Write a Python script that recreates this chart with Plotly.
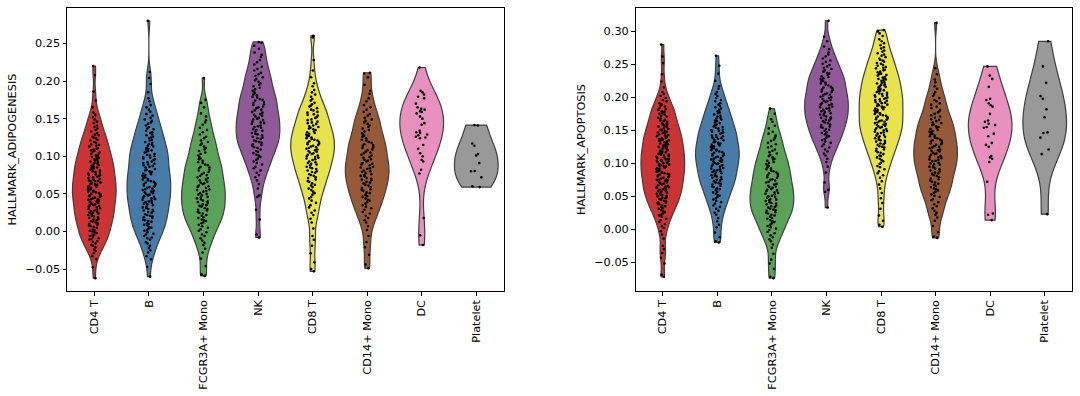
import plotly.graph_objects as go

categories = ["CD4 T", "B", "FCGR3A+ Mono", "NK", "CD8 T", "CD14+ Mono", "DC", "Platelet"]
colors = ["#cb3335", "#477ca8", "#59a257", "#905998", "#e6e34d", "#965a38", "#e890be", "#999999"]

# ---------------- HALLMARK_ADIPOGENESIS ----------------
adipo_cd4t = [-0.062, -0.048, -0.037, -0.033, -0.029, -0.026, -0.024, -0.021,
              -0.019, -0.018, -0.016, -0.014, -0.013, -0.011,
              -0.010, -0.009, -0.007, -0.006, -0.005, -0.004, -0.002, -0.001,
              0.000, 0.001, 0.002, 0.003, 0.005, 0.006, 0.007, 0.008, 0.009,
              0.010, 0.011, 0.012, 0.013, 0.014, 0.015, 0.016, 0.017, 0.018, 0.019,
              0.020, 0.021, 0.022, 0.023, 0.024, 0.025, 0.025, 0.026, 0.027, 0.028, 0.029,
              0.030, 0.031, 0.032, 0.033, 0.034, 0.035, 0.035, 0.036, 0.037, 0.038, 0.039,
              0.040, 0.041, 0.042, 0.043, 0.043, 0.044, 0.045, 0.046, 0.047, 0.047, 0.048, 0.049,
              0.050, 0.051, 0.052, 0.053, 0.053, 0.054, 0.055, 0.056, 0.057, 0.057, 0.058, 0.059,
              0.060, 0.061, 0.062, 0.063, 0.063, 0.064, 0.065, 0.066, 0.067, 0.067, 0.068, 0.069,
              0.070, 0.071, 0.072, 0.073, 0.074, 0.075, 0.075, 0.076, 0.077, 0.078, 0.079,
              0.080, 0.081, 0.082, 0.083, 0.084, 0.085, 0.085, 0.086, 0.087, 0.088, 0.089,
              0.090, 0.091, 0.092, 0.093, 0.094, 0.095, 0.096, 0.097, 0.098, 0.099,
              0.100, 0.101, 0.102, 0.103, 0.105, 0.106, 0.107, 0.108, 0.109,
              0.110, 0.111, 0.113, 0.114, 0.115, 0.116, 0.118, 0.119,
              0.121, 0.122, 0.124, 0.125, 0.126, 0.128, 0.129,
              0.131, 0.133, 0.135, 0.137, 0.139,
              0.141, 0.144, 0.146, 0.149,
              0.152, 0.155, 0.158,
              0.165, 0.174, 0.186, 0.208, 0.220]
adipo_b = [-0.060, -0.047, -0.037, -0.033, -0.028, -0.025, -0.022,
           -0.019, -0.016, -0.014, -0.011,
           -0.009, -0.008, -0.006, -0.004, -0.003, -0.001,
           0.001, 0.002, 0.004, 0.005, 0.006, 0.008, 0.009,
           0.010, 0.011, 0.013, 0.014, 0.015, 0.016, 0.018, 0.019,
           0.020, 0.021, 0.022, 0.023, 0.025, 0.026, 0.027, 0.028, 0.029,
           0.030, 0.031, 0.032, 0.033, 0.035, 0.036, 0.037, 0.038, 0.039,
           0.040, 0.041, 0.042, 0.043, 0.044, 0.045, 0.046, 0.047, 0.048, 0.049,
           0.050, 0.051, 0.052, 0.053, 0.054, 0.055, 0.056, 0.057, 0.058, 0.059,
           0.060, 0.061, 0.062, 0.063, 0.064, 0.065, 0.066, 0.067, 0.068, 0.069,
           0.070, 0.071, 0.072, 0.073, 0.074, 0.075, 0.076, 0.077, 0.078, 0.079,
           0.080, 0.081, 0.082, 0.083, 0.085, 0.086, 0.087, 0.088, 0.089,
           0.090, 0.091, 0.092, 0.093, 0.095, 0.096, 0.097, 0.098, 0.099,
           0.100, 0.101, 0.102, 0.103, 0.105, 0.106, 0.107, 0.108, 0.109,
           0.110, 0.111, 0.113, 0.114, 0.115, 0.116, 0.118, 0.119,
           0.121, 0.122, 0.124, 0.125, 0.126, 0.128, 0.129,
           0.131, 0.132, 0.134, 0.136, 0.137, 0.139,
           0.141, 0.143, 0.145, 0.147, 0.149,
           0.151, 0.154, 0.156, 0.159,
           0.162, 0.165, 0.168,
           0.173, 0.177,
           0.185, 0.196, 0.204, 0.212, 0.280]
adipo_fcgr = [-0.059, -0.057, -0.046, -0.036, -0.028, -0.023,
              -0.018, -0.015, -0.012,
              -0.009, -0.006, -0.004, -0.001,
              0.001, 0.003, 0.005, 0.007, 0.009,
              0.011, 0.012, 0.014, 0.015, 0.016, 0.018, 0.019,
              0.021, 0.022, 0.024, 0.025, 0.026, 0.028, 0.029,
              0.030, 0.031, 0.033, 0.034, 0.035, 0.036, 0.038, 0.039,
              0.040, 0.041, 0.043, 0.044, 0.045, 0.046, 0.048, 0.049,
              0.050, 0.051, 0.053, 0.054, 0.055, 0.056, 0.058, 0.059,
              0.060, 0.061, 0.063, 0.064, 0.065, 0.066, 0.068, 0.069,
              0.071, 0.072, 0.074, 0.075, 0.076, 0.078, 0.079,
              0.081, 0.082, 0.084, 0.085, 0.086, 0.088, 0.089,
              0.091, 0.092, 0.094, 0.096, 0.097, 0.099,
              0.101, 0.103, 0.105, 0.107, 0.109,
              0.111, 0.113, 0.115, 0.117, 0.119,
              0.121, 0.124, 0.126, 0.129,
              0.132, 0.135, 0.138,
              0.142, 0.145, 0.148,
              0.153, 0.157,
              0.165, 0.171, 0.175, 0.204]
adipo_nk = [-0.008, -0.004, 0.016, 0.029, 0.046, 0.048,
            0.057, 0.063, 0.068, 0.072, 0.075, 0.078,
            0.081, 0.084, 0.086, 0.089,
            0.091, 0.093, 0.095, 0.097, 0.099,
            0.101, 0.102, 0.104, 0.106, 0.107, 0.109,
            0.111, 0.112, 0.114, 0.115, 0.116, 0.118, 0.119,
            0.120, 0.121, 0.123, 0.124, 0.125, 0.126, 0.128, 0.129,
            0.130, 0.131, 0.133, 0.134, 0.135, 0.136, 0.138, 0.139,
            0.140, 0.141, 0.143, 0.144, 0.145, 0.146, 0.148, 0.149,
            0.150, 0.151, 0.153, 0.154, 0.155, 0.156, 0.158, 0.159,
            0.161, 0.162, 0.164, 0.165, 0.166, 0.168, 0.169,
            0.171, 0.172, 0.174, 0.175, 0.176, 0.178, 0.179,
            0.181, 0.182, 0.184, 0.186, 0.187, 0.189,
            0.191, 0.193, 0.195, 0.197, 0.199,
            0.201, 0.203, 0.205, 0.207, 0.209,
            0.211, 0.214, 0.216, 0.219,
            0.222, 0.225, 0.228,
            0.232, 0.235, 0.238,
            0.243, 0.247,
            0.251, 0.252]
adipo_cd8t = [-0.053, -0.050, -0.041, -0.029, -0.019, -0.011, -0.006,
              0.004, 0.012, 0.017,
              0.022, 0.025, 0.028,
              0.032, 0.035, 0.038,
              0.041, 0.044, 0.046, 0.049,
              0.051, 0.053, 0.055, 0.057, 0.059,
              0.061, 0.062, 0.064, 0.066, 0.067, 0.069,
              0.071, 0.072, 0.074, 0.075, 0.076, 0.078, 0.079,
              0.080, 0.081, 0.083, 0.084, 0.085, 0.086, 0.088, 0.089,
              0.090, 0.091, 0.092, 0.093, 0.095, 0.096, 0.097, 0.098, 0.099,
              0.100, 0.101, 0.102, 0.103, 0.104, 0.105, 0.106, 0.107, 0.108, 0.109,
              0.110, 0.111, 0.112, 0.113, 0.114, 0.115, 0.116, 0.117, 0.118, 0.119,
              0.120, 0.121, 0.122, 0.123, 0.124, 0.125, 0.126, 0.127, 0.128, 0.129,
              0.130, 0.131, 0.132, 0.133, 0.135, 0.136, 0.137, 0.138, 0.139,
              0.140, 0.141, 0.143, 0.144, 0.145, 0.146, 0.148, 0.149,
              0.151, 0.152, 0.154, 0.155, 0.156, 0.158, 0.159,
              0.161, 0.162, 0.164, 0.166, 0.167, 0.169,
              0.171, 0.174, 0.176, 0.179,
              0.182, 0.185, 0.188,
              0.193, 0.197,
              0.205, 0.214, 0.228, 0.258, 0.260]
adipo_cd14 = [-0.049, -0.044, -0.031, -0.021, -0.014, -0.006, 0.002, 0.007,
              0.012, 0.015, 0.018,
              0.021, 0.024, 0.026, 0.029,
              0.031, 0.033, 0.035, 0.037, 0.039,
              0.041, 0.042, 0.044, 0.046, 0.047, 0.049,
              0.051, 0.052, 0.054, 0.055, 0.056, 0.058, 0.059,
              0.061, 0.062, 0.064, 0.065, 0.066, 0.068, 0.069,
              0.070, 0.071, 0.073, 0.074, 0.075, 0.076, 0.078, 0.079,
              0.080, 0.081, 0.083, 0.084, 0.085, 0.086, 0.088, 0.089,
              0.090, 0.091, 0.093, 0.094, 0.095, 0.096, 0.098, 0.099,
              0.101, 0.102, 0.104, 0.105, 0.106, 0.108, 0.109,
              0.111, 0.112, 0.114, 0.115, 0.116, 0.118, 0.119,
              0.121, 0.122, 0.124, 0.126, 0.127, 0.129,
              0.131, 0.133, 0.135, 0.137, 0.139,
              0.141, 0.143, 0.145, 0.147, 0.149,
              0.151, 0.154, 0.156, 0.159,
              0.162, 0.165, 0.168,
              0.173, 0.177,
              0.183, 0.187,
              0.195, 0.205, 0.210, 0.211]
adipo_dc = [0.218, 0.187, 0.185, 0.182, 0.179, 0.177, 0.170, 0.165, 0.163, 0.162, 0.160, 0.159, 0.157,
            0.153, 0.150, 0.144, 0.142, 0.134, 0.132, 0.131, 0.129, 0.128, 0.126, 0.125, 0.124, 0.115,
            0.110, 0.104, 0.100, 0.095, 0.093, 0.082, 0.077, 0.018, -0.005, -0.018]
adipo_platelet = [0.1415, 0.141, 0.117, 0.114, 0.103, 0.101, 0.091, 0.0805, 0.080, 0.072, 0.060, 0.059]

# ---------------- HALLMARK_APOPTOSIS ----------------
apop_cd4t = [-0.072, -0.069, -0.052, -0.043, -0.036, -0.030, -0.025, -0.014, -0.008, -0.003,
             0.002, 0.005, 0.008,
             0.011, 0.014, 0.016, 0.019,
             0.021, 0.022, 0.024, 0.026, 0.027, 0.029,
             0.031, 0.032, 0.034, 0.035, 0.036, 0.038, 0.039,
             0.040, 0.041, 0.042, 0.043, 0.045, 0.046, 0.047, 0.048, 0.049,
             0.050, 0.051, 0.052, 0.053, 0.054, 0.055, 0.056, 0.057, 0.058, 0.059,
             0.060, 0.061, 0.062, 0.063, 0.064, 0.065, 0.065, 0.066, 0.067, 0.068, 0.069,
             0.070, 0.071, 0.072, 0.073, 0.074, 0.075, 0.075, 0.076, 0.077, 0.078, 0.079,
             0.080, 0.081, 0.082, 0.083, 0.083, 0.084, 0.085, 0.086, 0.087, 0.087, 0.088, 0.089,
             0.090, 0.091, 0.092, 0.093, 0.093, 0.094, 0.095, 0.096, 0.097, 0.097, 0.098, 0.099,
             0.100, 0.101, 0.102, 0.103, 0.103, 0.104, 0.105, 0.106, 0.107, 0.107, 0.108, 0.109,
             0.110, 0.111, 0.112, 0.113, 0.113, 0.114, 0.115, 0.116, 0.117, 0.117, 0.118, 0.119,
             0.120, 0.121, 0.122, 0.123, 0.124, 0.125, 0.125, 0.126, 0.127, 0.128, 0.129,
             0.130, 0.131, 0.132, 0.133, 0.134, 0.135, 0.135, 0.136, 0.137, 0.138, 0.139,
             0.140, 0.141, 0.142, 0.143, 0.144, 0.145, 0.146, 0.147, 0.148, 0.149,
             0.150, 0.151, 0.152, 0.153, 0.155, 0.156, 0.157, 0.158, 0.159,
             0.160, 0.161, 0.163, 0.164, 0.165, 0.166, 0.168, 0.169,
             0.171, 0.172, 0.174, 0.175, 0.176, 0.178, 0.179,
             0.181, 0.182, 0.184, 0.186, 0.187, 0.189,
             0.191, 0.194, 0.196, 0.199,
             0.202, 0.205, 0.208,
             0.215, 0.224, 0.235, 0.252, 0.262, 0.280]
apop_b = [-0.020, -0.018, -0.012, -0.005, 0.003, 0.007, 0.012, 0.017,
          0.022, 0.025, 0.028,
          0.031, 0.034, 0.036, 0.039,
          0.041, 0.043, 0.045, 0.047, 0.049,
          0.051, 0.052, 0.054, 0.056, 0.057, 0.059,
          0.061, 0.062, 0.064, 0.065, 0.066, 0.068, 0.069,
          0.070, 0.071, 0.073, 0.074, 0.075, 0.076, 0.078, 0.079,
          0.080, 0.081, 0.082, 0.083, 0.085, 0.086, 0.087, 0.088, 0.089,
          0.090, 0.091, 0.092, 0.093, 0.095, 0.096, 0.097, 0.098, 0.099,
          0.100, 0.101, 0.102, 0.103, 0.104, 0.105, 0.106, 0.107, 0.108, 0.109,
          0.110, 0.111, 0.112, 0.113, 0.114, 0.115, 0.116, 0.117, 0.118, 0.119,
          0.120, 0.121, 0.122, 0.123, 0.124, 0.125, 0.126, 0.127, 0.128, 0.129,
          0.130, 0.131, 0.132, 0.133, 0.135, 0.136, 0.137, 0.138, 0.139,
          0.140, 0.141, 0.142, 0.143, 0.145, 0.146, 0.147, 0.148, 0.149,
          0.150, 0.151, 0.153, 0.154, 0.155, 0.156, 0.158, 0.159,
          0.161, 0.162, 0.164, 0.165, 0.166, 0.168, 0.169,
          0.171, 0.172, 0.174, 0.176, 0.177, 0.179,
          0.181, 0.183, 0.185, 0.187, 0.189,
          0.191, 0.194, 0.196, 0.199,
          0.202, 0.205, 0.208,
          0.213, 0.217,
          0.225, 0.236, 0.248, 0.263]
apop_fcgr = [-0.074, -0.072, -0.060, -0.052, -0.046, -0.037, -0.028, -0.023,
             -0.018, -0.015, -0.012,
             -0.009, -0.006, -0.004, -0.001,
             0.001, 0.003, 0.005, 0.007, 0.009,
             0.011, 0.012, 0.014, 0.016, 0.017, 0.019,
             0.021, 0.022, 0.024, 0.025, 0.026, 0.028, 0.029,
             0.030, 0.031, 0.033, 0.034, 0.035, 0.036, 0.038, 0.039,
             0.040, 0.041, 0.043, 0.044, 0.045, 0.046, 0.048, 0.049,
             0.050, 0.051, 0.053, 0.054, 0.055, 0.056, 0.058, 0.059,
             0.060, 0.061, 0.063, 0.064, 0.065, 0.066, 0.068, 0.069,
             0.071, 0.072, 0.074, 0.075, 0.076, 0.078, 0.079,
             0.081, 0.082, 0.084, 0.085, 0.086, 0.088, 0.089,
             0.091, 0.092, 0.094, 0.096, 0.097, 0.099,
             0.101, 0.102, 0.104, 0.106, 0.107, 0.109,
             0.111, 0.113, 0.115, 0.117, 0.119,
             0.121, 0.124, 0.126, 0.129,
             0.131, 0.134, 0.136, 0.139,
             0.142, 0.145, 0.148,
             0.153, 0.157,
             0.163, 0.167,
             0.175, 0.183]
apop_nk = [0.033, 0.057, 0.060, 0.071, 0.086, 0.095, 0.102, 0.107,
           0.112, 0.115, 0.118,
           0.121, 0.124, 0.126, 0.129,
           0.131, 0.133, 0.135, 0.137, 0.139,
           0.141, 0.142, 0.144, 0.146, 0.147, 0.149,
           0.151, 0.152, 0.154, 0.155, 0.156, 0.158, 0.159,
           0.161, 0.162, 0.164, 0.165, 0.166, 0.168, 0.169,
           0.170, 0.171, 0.173, 0.174, 0.175, 0.176, 0.178, 0.179,
           0.180, 0.181, 0.183, 0.184, 0.185, 0.186, 0.188, 0.189,
           0.190, 0.191, 0.193, 0.194, 0.195, 0.196, 0.198, 0.199,
           0.200, 0.201, 0.203, 0.204, 0.205, 0.206, 0.208, 0.209,
           0.211, 0.212, 0.214, 0.215, 0.216, 0.218, 0.219,
           0.221, 0.222, 0.224, 0.225, 0.226, 0.228, 0.229,
           0.231, 0.232, 0.234, 0.236, 0.237, 0.239,
           0.241, 0.243, 0.245, 0.247, 0.249,
           0.251, 0.254, 0.256, 0.259,
           0.262, 0.265, 0.268,
           0.273, 0.277,
           0.285, 0.292, 0.316]
apop_cd8t = [0.004, 0.007, 0.013, 0.021, 0.031, 0.040, 0.047, 0.055, 0.062, 0.068, 0.073, 0.078,
             0.082, 0.085, 0.088,
             0.091, 0.094, 0.096, 0.099,
             0.101, 0.103, 0.105, 0.107, 0.109,
             0.111, 0.112, 0.114, 0.116, 0.117, 0.119,
             0.121, 0.122, 0.124, 0.125, 0.126, 0.128, 0.129,
             0.130, 0.131, 0.133, 0.134, 0.135, 0.136, 0.138, 0.139,
             0.140, 0.141, 0.142, 0.143, 0.145, 0.146, 0.147, 0.148, 0.149,
             0.150, 0.151, 0.152, 0.153, 0.154, 0.155, 0.156, 0.157, 0.158, 0.159,
             0.160, 0.161, 0.162, 0.163, 0.164, 0.165, 0.166, 0.167, 0.168, 0.169,
             0.170, 0.171, 0.172, 0.173, 0.174, 0.175, 0.176, 0.177, 0.178, 0.179,
             0.180, 0.181, 0.182, 0.183, 0.184, 0.185, 0.186, 0.187, 0.188, 0.189,
             0.190, 0.191, 0.192, 0.193, 0.194, 0.195, 0.196, 0.197, 0.198, 0.199,
             0.200, 0.201, 0.202, 0.203, 0.204, 0.205, 0.206, 0.207, 0.208, 0.209,
             0.210, 0.211, 0.212, 0.213, 0.215, 0.216, 0.217, 0.218, 0.219,
             0.220, 0.221, 0.222, 0.223, 0.225, 0.226, 0.227, 0.228, 0.229,
             0.230, 0.231, 0.233, 0.234, 0.235, 0.236, 0.238, 0.239,
             0.241, 0.242, 0.244, 0.245, 0.246, 0.248, 0.249,
             0.251, 0.252, 0.254, 0.256, 0.257, 0.259,
             0.261, 0.263, 0.265, 0.267, 0.269,
             0.271, 0.274, 0.276, 0.279,
             0.282, 0.285, 0.288,
             0.293, 0.297,
             0.300, 0.302]
apop_cd14 = [-0.013, -0.011, -0.004, 0.005, 0.013, 0.018,
             0.022, 0.025, 0.028,
             0.032, 0.035, 0.038,
             0.041, 0.044, 0.046, 0.049,
             0.051, 0.053, 0.055, 0.057, 0.059,
             0.061, 0.062, 0.064, 0.066, 0.067, 0.069,
             0.071, 0.072, 0.074, 0.076, 0.077, 0.079,
             0.081, 0.082, 0.084, 0.085, 0.086, 0.088, 0.089,
             0.091, 0.092, 0.094, 0.095, 0.096, 0.098, 0.099,
             0.100, 0.101, 0.103, 0.104, 0.105, 0.106, 0.108, 0.109,
             0.110, 0.111, 0.113, 0.114, 0.115, 0.116, 0.118, 0.119,
             0.120, 0.121, 0.123, 0.124, 0.125, 0.126, 0.128, 0.129,
             0.130, 0.131, 0.133, 0.134, 0.135, 0.136, 0.138, 0.139,
             0.141, 0.142, 0.144, 0.145, 0.146, 0.148, 0.149,
             0.151, 0.152, 0.154, 0.155, 0.156, 0.158, 0.159,
             0.161, 0.162, 0.164, 0.166, 0.167, 0.169,
             0.171, 0.173, 0.175, 0.177, 0.179,
             0.181, 0.184, 0.186, 0.189,
             0.191, 0.194, 0.196, 0.199,
             0.202, 0.205, 0.208,
             0.213, 0.217,
             0.223, 0.227,
             0.235, 0.244, 0.313]
apop_dc = [0.247, 0.233, 0.228, 0.216, 0.198, 0.196, 0.191, 0.188, 0.186, 0.175, 0.165, 0.163, 0.160,
           0.158, 0.155, 0.154, 0.145, 0.141, 0.131, 0.128, 0.125, 0.111, 0.109, 0.107, 0.102, 0.072,
           0.024, 0.022, 0.014]
apop_platelet = [0.285, 0.247, 0.222, 0.202, 0.198, 0.182, 0.170, 0.147, 0.146, 0.139, 0.121, 0.114, 0.023]

adipo = [adipo_cd4t, adipo_b, adipo_fcgr, adipo_nk, adipo_cd8t, adipo_cd14, adipo_dc, adipo_platelet]
apop = [apop_cd4t, apop_b, apop_fcgr, apop_nk, apop_cd8t, apop_cd14, apop_dc, apop_platelet]

# kernel bandwidths (style)
bw_adipo = [0.0085, 0.010, 0.010, 0.010, 0.010, 0.010, 0.023, 0.0165]
bw_apop = [0.0090, 0.010, 0.010, 0.010, 0.010, 0.011, 0.027, 0.035]

fig = go.Figure()
panels = [(adipo, bw_adipo, "x", "y"), (apop, bw_apop, "x2", "y2")]
for data, bws, xa, ya in panels:
    for cat, col, vals, bw in zip(categories, colors, data, bws):
        fig.add_trace(go.Violin(
            x=[cat] * len(vals), y=vals, xaxis=xa, yaxis=ya,
            fillcolor=col, line=dict(color="#3e3e3e", width=1.2),
            points="all", jitter=0.3, pointpos=0,
            marker=dict(size=2.6, color="black", line=dict(width=0)),
            spanmode="hard", scalemode="width", width=0.8, bandwidth=bw,
            showlegend=False, opacity=1,
        ))


def yrange(data):
    lo = min(min(v) for v in data)
    hi = max(max(v) for v in data)
    r = hi - lo
    return [lo - 0.05 * r, hi + 0.05 * r]


font = dict(family="DejaVu Sans", size=11.3, color="black")
axis_common = dict(showline=True, mirror=True, linecolor="black", linewidth=1, showgrid=False,
                   zeroline=False, ticks="outside", ticklen=3.5, tickwidth=0.8, tickcolor="black",
                   tickfont=font, automargin=False)
xcommon = dict(axis_common, type="category", categoryorder="array", categoryarray=categories,
               range=[-0.5, 7.5], tickangle=-90)

fig.update_layout(
    width=1080, height=396,
    margin=dict(l=67, r=8, t=8, b=105),
    paper_bgcolor="white", plot_bgcolor="white",
    violinmode="overlay",
    font=font,
    xaxis=dict(xcommon, domain=[0.0, 0.4344], anchor="y"),
    xaxis2=dict(xcommon, domain=[0.5657, 1.0], anchor="y2"),
    yaxis=dict(axis_common, domain=[0, 1], anchor="x", range=yrange(adipo), dtick=0.05,
               tickformat=".2f", title=dict(text="HALLMARK_ADIPOGENESIS", font=font, standoff=6)),
    yaxis2=dict(axis_common, domain=[0, 1], anchor="x2", range=yrange(apop), dtick=0.05,
                tickformat=".2f", title=dict(text="HALLMARK_APOPTOSIS", font=font, standoff=6)),
)

fig.write_html("out.html", config={"displayModeBar": False},
               post_script="document.body.style.margin='0px';document.body.style.overflow='hidden';")
